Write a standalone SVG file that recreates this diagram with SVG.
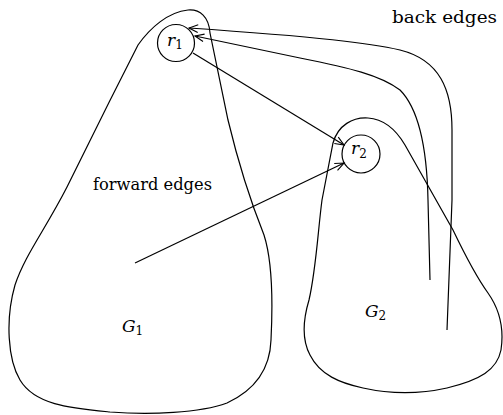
<svg xmlns="http://www.w3.org/2000/svg" width="503" height="415" viewBox="0 0 503 415">
<style>
.ln{fill:none;stroke:#000;stroke-width:1.2}
</style>
<defs>
<marker id="ah" markerUnits="userSpaceOnUse" markerWidth="14" markerHeight="12" viewBox="-11 -6 14 12" refX="0" refY="0" orient="auto">
<path d="M-9,-3.8 L0,0 L-9,3.8" fill="none" stroke="#000" stroke-width="1.1"/>
</marker>
</defs>
<rect width="503" height="415" fill="#fff"/>
<g font-family="'DejaVu Serif', serif" font-size="17" fill="#000">
<g id="G1">
<path class="ln" d="M210,33 C209,17 200,9 188,10 C168,12 150,28 138,45 C115,90 85,150 67,187 C45,230 25,255 15,285 C5,320 8,360 20,380 C35,405 70,408 110,412 C150,415 200,413 227,403 C255,390 270,370 271,340 C273,300 272,260 264,235 C250,200 240,170 228,120 Z"/>
<text x="122" y="332" font-style="italic">G<tspan font-size="12" font-style="normal" dy="3">1</tspan></text>
</g>
<g id="G2">
<path class="ln" d="M333,143 C338,125 353,117 368,118 C383,119 395,128 405,145 L453,230 C465,255 475,275 488,293 C500,310 504,330 501,350 C497,370 480,380 447,388 C420,394 390,394 363,388 C340,383 320,375 310,355 C302,340 303,320 309,300 C316,270 318,230 322,200 Z"/>
<text x="365" y="317" font-style="italic">G<tspan font-size="12" font-style="normal" dy="3">2</tspan></text>
</g>
<g id="r1">
<circle class="ln" cx="176" cy="43" r="18.5"/>
<text x="167" y="46" font-style="italic">r<tspan font-size="12" font-style="normal" dy="3">1</tspan></text>
</g>
<g id="r2">
<circle class="ln" cx="361" cy="154" r="19"/>
<text x="351" y="154" font-style="italic">r<tspan font-size="12" font-style="normal" dy="4">2</tspan></text>
</g>
<g id="connectors">
<path class="ln" d="M193,53 L344,145" marker-end="url(#ah)"/>
<path class="ln" d="M135,263 L344,163" marker-end="url(#ah)"/>
<path class="ln" d="M430,280 L428,200 C427,150 420,110 400,90 C380,75 350,68 300,58 L195,36" marker-end="url(#ah)"/>
<path class="ln" d="M447,330 L452,200 L452,130 C452,90 440,60 400,50 C370,43 320,37 189,28" marker-end="url(#ah)"/>
</g>
<text x="392" y="23" textLength="105" lengthAdjust="spacingAndGlyphs">back edges</text>
<text x="93" y="190" textLength="119" lengthAdjust="spacingAndGlyphs">forward edges</text>
</g>
</svg>
